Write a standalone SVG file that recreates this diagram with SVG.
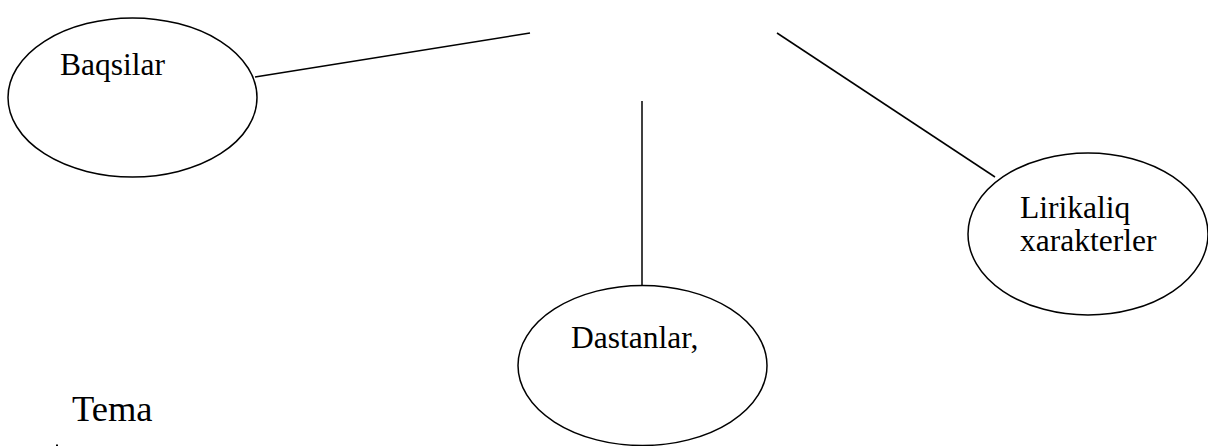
<svg xmlns="http://www.w3.org/2000/svg" width="1208" height="446" viewBox="0 0 1208 446">
<style>
.n{fill:#fff;stroke:#000;stroke-width:1.5}
.c{stroke:#000;stroke-width:1.5;fill:none}
</style>
<rect width="1208" height="446" fill="#fff"/>
<g id="connectors">
<line class="c" x1="255" y1="77" x2="530" y2="33"/>
<line class="c" x1="642" y1="101" x2="642" y2="285"/>
<line class="c" x1="777" y1="33" x2="995" y2="177"/>
</g>
<g font-family="'Liberation Serif', 'Times New Roman', serif" font-size="31.5" fill="#000">
<g id="node-baqsilar">
<ellipse class="n" cx="132.5" cy="97.5" rx="124.5" ry="79.5"/>
<text x="60" y="75">Baqsilar</text>
</g>
<g id="node-lirikaliq">
<ellipse class="n" cx="1088" cy="234" rx="120" ry="81"/>
<text x="1020" y="218">Lirikaliq</text>
<text x="1020" y="251">xarakterler</text>
</g>
<g id="node-dastanlar">
<ellipse class="n" cx="642.5" cy="365.5" rx="124.5" ry="80"/>
<text x="571" y="348">Dastanlar,</text>
</g>
<g id="node-tema">
<text x="72" y="421" font-size="36.5">Tema</text>
</g>
</g>
<rect x="56" y="444.5" width="2" height="1.5" fill="#000"/>
</svg>
